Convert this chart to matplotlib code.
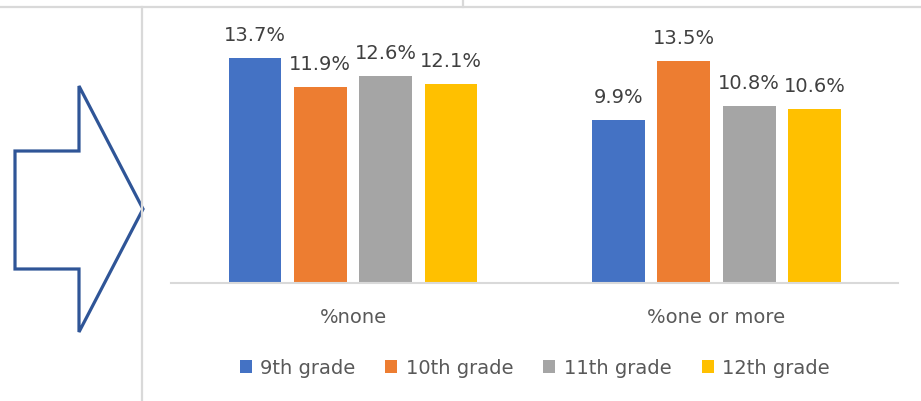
import matplotlib
matplotlib.use("Agg")
import matplotlib.pyplot as plt
import numpy as np
from matplotlib.patches import Polygon, Patch
from matplotlib.lines import Line2D

categories = ["%none", "%one or more"]
grades = ["9th grade", "10th grade", "11th grade", "12th grade"]
values = {
    "9th grade": [13.7, 9.9],
    "10th grade": [11.9, 13.5],
    "11th grade": [12.6, 10.8],
    "12th grade": [12.1, 10.6],
}
colors = ["#4472C4", "#ED7D31", "#A5A5A5", "#FFC000"]

W, H = 921, 402
fig = plt.figure(figsize=(W / 100, H / 100), dpi=100)
plt.rcParams["font.family"] = ["DejaVu Sans"]


def px(x, y):
    # pixel (from top-left) -> figure fraction
    return (x / W, 1 - y / H)


# chart frame lines
frame_color = "#D9D9D9"
for (x0, y0), (x1, y1) in [((0, 8), (W, 8)), ((142, 8), (142, H)), ((463, 0), (463, 8))]:
    a, b = px(x0, y0), px(x1, y1)
    fig.add_artist(Line2D([a[0], b[0]], [a[1], b[1]], transform=fig.transFigure,
                          color=frame_color, lw=1.6))

# right-pointing block arrow outline
arrow_px = [(15, 152), (79, 152), (79, 87), (143, 210), (79, 333), (79, 270), (15, 270)]
arrow = Polygon([px(x, y) for x, y in arrow_px], closed=True, transform=fig.transFigure,
                facecolor="white", edgecolor="#2F5597", lw=2.3, joinstyle="miter")
fig.add_artist(arrow)

ymax = 16
ax = fig.add_axes([171.25 / W, (H - 284) / H, 727 / W, ymax * 16.43 / H])
ax.set_xlim(-0.5, 1.5)
ax.set_ylim(0, ymax)

x = np.arange(len(categories))
step = 0.18
width = 0.145
for i, (g, c) in enumerate(zip(grades, colors)):
    pos = x + (i - 1.5) * step
    bars = ax.bar(pos, values[g], width=width, color=c, label=g, zorder=2)
    for b, v in zip(bars, values[g]):
        ax.annotate(f"{v:.1f}%", (b.get_x() + b.get_width() / 2, v),
                    xytext=(0, 13), textcoords="offset points",
                    ha="center", va="baseline", fontsize=14, color="#404040")

for s in ["top", "right", "left"]:
    ax.spines[s].set_visible(False)
ax.spines["bottom"].set_color("#D9D9D9")
ax.spines["bottom"].set_linewidth(1.5)
ax.set_yticks([])
ax.set_xticks(x)
ax.set_xticklabels(categories, fontsize=14, color="#595959")
ax.tick_params(axis="x", length=0, pad=17)

handles = [Patch(facecolor=c, edgecolor="none") for c in colors]
ax.legend(handles, grades, loc="center", bbox_to_anchor=(0.5, -85 / 263), ncol=4,
          frameon=False, fontsize=14, labelcolor="#595959", handlelength=0.62,
          handleheight=0.62, handletextpad=0.45, columnspacing=1.53)

fig.savefig("out.png", dpi=100)
